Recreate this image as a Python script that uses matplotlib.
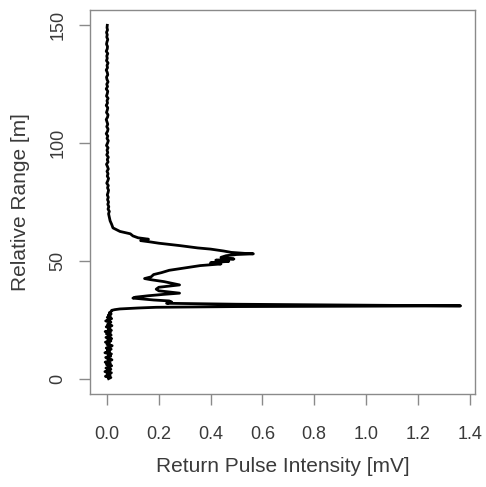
import matplotlib
matplotlib.use("Agg")
import matplotlib.pyplot as plt
import numpy as np

# lower noise floor, 0 - 29 m (step 0.5 m)
range_low = [i * 0.5 for i in range(58)]
int_low = [0.006, 0.015, -0.006, 0.012, 0.000, 0.017, -0.008, 0.009, 0.015, -0.004,
           0.010, 0.018, -0.002, 0.013, -0.007, 0.008, 0.019, 0.002, -0.005, 0.014,
           0.004, 0.017, -0.008, 0.010, 0.001, 0.016, -0.003, 0.012, 0.020, 0.000,
           0.009, -0.006, 0.015, 0.003, 0.018, -0.004, 0.010, 0.016, -0.002, 0.013,
           -0.007, 0.017, 0.005, 0.012, -0.003, 0.019, 0.002, 0.010, 0.015, -0.005,
           0.009, 0.018, 0.001, 0.013, 0.005, 0.016, 0.009, 0.016]

# main return pulses, 29 - 67 m
range_pulse = [29.0, 29.3, 29.6, 30.0, 30.3, 30.6, 30.9, 31.2, 31.6, 32.0,
               32.5, 33.0, 33.4, 33.8, 34.2, 34.6, 35.2, 35.8, 36.3, 36.8,
               37.3, 38.0, 38.8, 39.3, 39.8, 40.5, 41.2, 42.0, 42.5, 43.2,
               44.2, 45.0, 46.0, 47.0, 48.0, 48.7, 49.2, 49.8, 50.3, 50.8,
               51.5, 52.2, 52.7, 53.0, 53.2, 53.6, 54.2, 55.0, 55.5, 56.5,
               57.5, 58.0, 58.6, 59.2, 59.8, 60.6, 61.5, 62.5, 64.0, 65.5,
               67.0]
int_pulse = [0.018, 0.030, 0.050, 0.120, 0.190, 0.500, 1.365, 1.000, 0.500, 0.230,
             0.250, 0.240, 0.180, 0.140, 0.100, 0.110, 0.160, 0.220, 0.280, 0.240,
             0.200, 0.190, 0.200, 0.240, 0.280, 0.250, 0.220, 0.170, 0.145, 0.170,
             0.180, 0.210, 0.240, 0.300, 0.360, 0.440, 0.400, 0.470, 0.420, 0.490,
             0.440, 0.460, 0.500, 0.565, 0.530, 0.480, 0.450, 0.400, 0.350, 0.280,
             0.200, 0.170, 0.130, 0.160, 0.120, 0.100, 0.090, 0.050, 0.023, 0.018,
             0.012]

# upper tail, 68 - 150 m (step 1 m)
range_high = list(range(68, 151))
int_high = [0.010, 0.008, 0.006, 0.009, 0.004, 0.007, 0.003, 0.006, 0.002, 0.005,
            0.001, 0.004, 0.006, 0.002, 0.005, -0.001, 0.003, 0.006, 0.001, 0.004,
            0.000, 0.005, 0.002, -0.002, 0.004, 0.001, 0.005, -0.001, 0.003, 0.000,
            0.004, -0.002, 0.002, 0.005, 0.000, 0.003, -0.003, 0.002, 0.004, -0.001,
            0.003, 0.000, -0.003, 0.002, 0.004, -0.002, 0.001, 0.003, -0.003, 0.002,
            0.000, 0.004, -0.002, 0.001, 0.003, -0.003, 0.002, -0.001, 0.004, 0.000,
            -0.002, 0.003, 0.001, -0.003, 0.002, 0.000, 0.004, -0.002, 0.001, -0.001,
            0.003, -0.003, 0.001, 0.002, -0.002, 0.000, 0.003, -0.001, 0.001, -0.002,
            0.002, 0.000, 0.001]

x_ticks = [0.0, 0.2, 0.4, 0.6, 0.8, 1.0, 1.2, 1.4]
y_ticks = [0, 50, 100, 150]

rng = np.concatenate([range_low, range_pulse, range_high])
intensity = np.concatenate([int_low, int_pulse, int_high])

plt.rcParams['font.family'] = ['Liberation Sans', 'DejaVu Sans']
text_col = '#3a3a3a'
frame_col = '#8a8a8a'

fig = plt.figure(figsize=(4.86, 4.87), dpi=100)
ax = fig.add_axes([0.185, 0.191, 0.792, 0.788])

ax.plot(intensity, rng, color='black', linewidth=2.0)

ax.set_xlim(-0.066, 1.42)
ax.set_ylim(-6.5, 156.4)
ax.set_xticks(x_ticks)
ax.set_xticklabels(['%.1f' % t for t in x_ticks])
ax.set_yticks(y_ticks)
ax.set_yticklabels([str(t) for t in y_ticks], rotation=90, va='center')

for sp in ax.spines.values():
    sp.set_color(frame_col)
    sp.set_linewidth(1.0)

ax.tick_params(direction='out', length=8, width=1.0, color=frame_col,
               labelcolor=text_col, labelsize=13)
ax.tick_params(axis='x', pad=15)
ax.tick_params(axis='y', pad=9)

ax.set_xlabel('Return Pulse Intensity [mV]', fontsize=15, color=text_col, labelpad=10)
ax.set_ylabel('Relative Range [m]', fontsize=15, color=text_col, labelpad=14)

fig.savefig('out.png', dpi=100)
